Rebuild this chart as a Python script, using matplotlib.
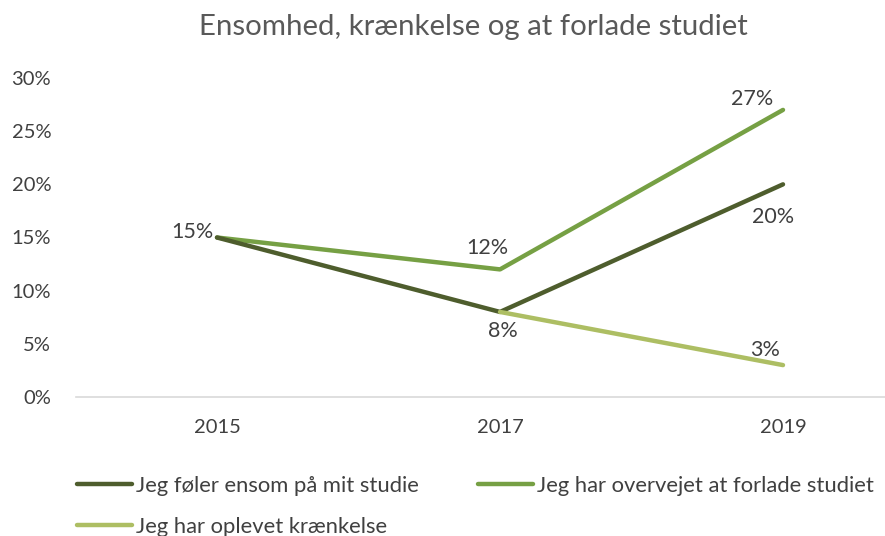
import matplotlib.pyplot as plt
from matplotlib.ticker import PercentFormatter

plt.rcParams['font.family'] = ['Lato', 'DejaVu Sans']

years = ['2015', '2017', '2019']
ensom = [0.15, 0.08, 0.20]
forlade = [0.15, 0.12, 0.27]
kraenk = [None, 0.08, 0.03]  # no value for 2015

c_dark = '#4E5D2D'
c_mid = '#76A044'
c_light = '#ADBE63'
txt = '#404040'

fig = plt.figure(figsize=(8.85, 5.36), dpi=100)
ax = fig.add_axes([75.5 / 885, 139 / 536, 849 / 885, 319 / 536])

x = [0, 1, 2]
l1, = ax.plot(x, ensom, color=c_dark, lw=3.2, solid_capstyle='round', solid_joinstyle='round', zorder=3,
              label='Jeg føler ensom på mit studie')
l2, = ax.plot(x, forlade, color=c_mid, lw=3.2, solid_capstyle='round', solid_joinstyle='round', zorder=2,
              label='Jeg har overvejet at forlade studiet')
l3, = ax.plot(x[1:], kraenk[1:], color=c_light, lw=3.2, solid_capstyle='round', solid_joinstyle='round', zorder=4,
              label='Jeg har oplevet krænkelse')

# data labels (offsets in pixels -> points)
labels = [
    (0, forlade[0], -25, 6),
    (1, forlade[1], -13, 21),
    (1, ensom[1], 3, -19),
    (2, forlade[2], -31, 11),
    (2, ensom[2], -10, -33),
    (2, kraenk[2], -18, 15),
]
for xi, yi, dx, dy in labels:
    ax.annotate(f'{round(yi * 100)}%', (xi, yi), xytext=(dx * 0.72, dy * 0.72),
                textcoords='offset points', ha='center', va='center', fontsize=15.5, color=txt)

ax.set_xlim(-0.5, 2.5)
ax.set_ylim(0, 0.30)
ax.set_yticks([0, 0.05, 0.10, 0.15, 0.20, 0.25, 0.30])
ax.yaxis.set_major_formatter(PercentFormatter(1.0, decimals=0))
ax.set_xticks(x)
ax.set_xticklabels(years)
ax.tick_params(axis='both', length=0, labelsize=14.5, labelcolor=txt)
ax.tick_params(axis='x', pad=16)
ax.tick_params(axis='y', pad=17.5)
for s in ['top', 'right', 'left']:
    ax.spines[s].set_visible(False)
ax.spines['bottom'].set_color('#D9D9D9')
ax.spines['bottom'].set_linewidth(1.2)

fig.text(473 / 885, 1 - 27 / 536, 'Ensomhed, krænkelse og at forlade studiet',
         ha='center', va='center', fontsize=21.2, color='#595959')

leg = fig.legend(handles=[l1, l3, l2], ncol=2, loc='upper left',
                 bbox_to_anchor=(68 / 885, 1 - 467 / 536), frameon=False,
                 fontsize=15.8, handlelength=2.5, handletextpad=0.2,
                 columnspacing=2.7, labelspacing=0.95, borderaxespad=0)
for t in leg.get_texts():
    t.set_color(txt)

fig.savefig('out.png', dpi=100)
